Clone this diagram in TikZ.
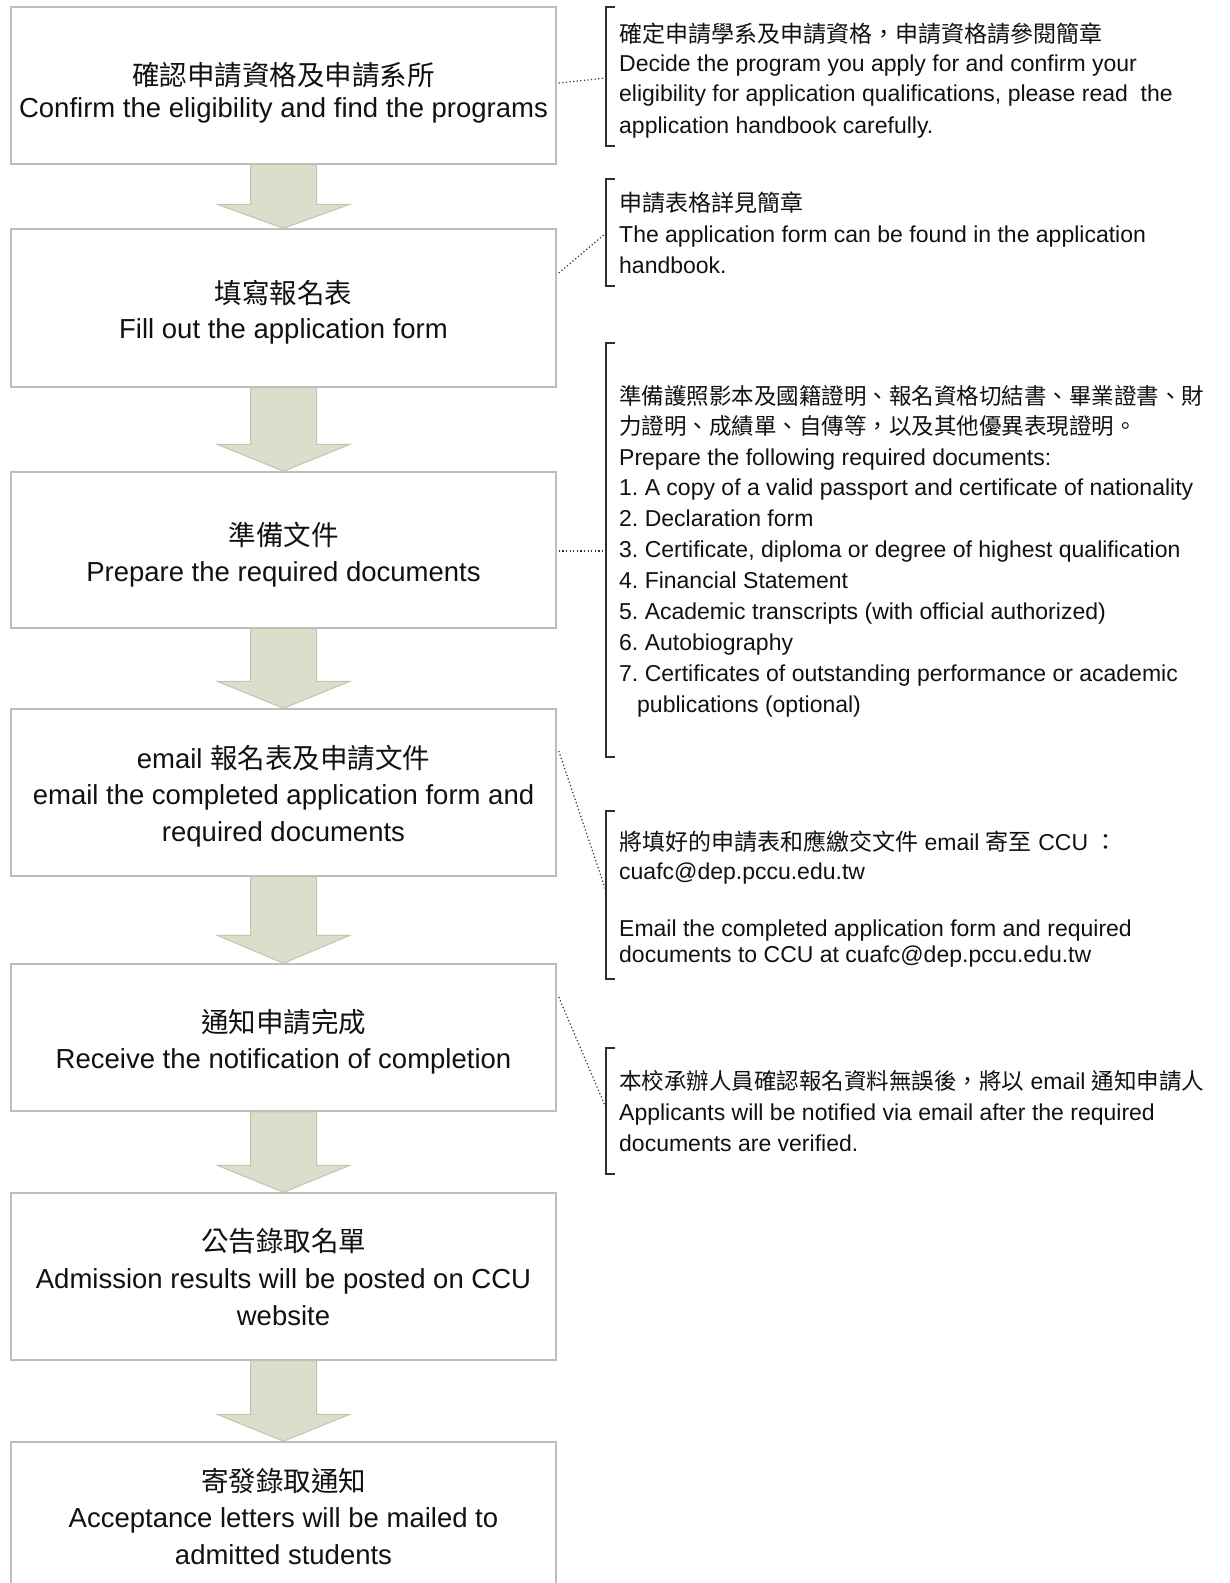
\documentclass[tikz,border=0pt]{standalone}
\usepackage{fontspec}
\setmainfont{Liberation Sans}
\newfontfamily\cjk{Noto Sans CJK TC}
\usetikzlibrary{calc}
\frenchspacing
\definecolor{boxgray}{HTML}{BDBDBD}
\definecolor{textc}{HTML}{111111}
\definecolor{brkc}{HTML}{2E2E2E}
\definecolor{linkc}{HTML}{333333}
\definecolor{arrowfill}{HTML}{DCDDCB}
\definecolor{arrowline}{HTML}{C3C5B0}
\tikzset{
  stepbox/.style={draw=boxgray, line width=1.5pt, fill=white, minimum width=545pt, inner sep=0pt},
  boxtext/.style={anchor=base, inner sep=0pt, font=\fontsize{27.5}{37}\selectfont, text=textc},
  annotext/.style={anchor=base west, inner sep=0pt, font=\fontsize{23}{31}\selectfont, text=textc},
  brk/.style={draw=brkc, line width=1.3pt},
  dotlink/.style={draw=linkc, line width=1.2pt, dash pattern=on 1.2pt off 2.4pt},
  flowarr/.style={draw=arrowline, fill=arrowfill, line width=1pt, line join=miter}
}
\newcommand\flowarrowdraw[3]{%
  \draw[flowarr] ($(#1.south)+(-33,0)$) -- ($(#2.north)+(-33,-#3)$) -- ($(#2.north)+(-66.5,-#3)$) -- (#2.north) -- ($(#2.north)+(66.5,-#3)$) -- ($(#2.north)+(33,-#3)$) -- ($(#1.south)+(33,0)$) -- cycle;}
\begin{document}
\begin{tikzpicture}[x=1pt,y=-1pt]
\fill[white] (0,0) rectangle (1230,1583);
\useasboundingbox (0,0) rectangle (1230,1583);

% boxes
\node[stepbox, minimum height=157pt] (b1) at (283.5,85.5) {};
\node[stepbox, minimum height=158pt] (b2) at (283.5,308) {};
\node[stepbox, minimum height=156pt] (b3) at (283.5,550) {};
\node[stepbox, minimum height=167pt] (b4) at (283.5,792.5) {};
\node[stepbox, minimum height=147pt] (b5) at (283.5,1037.5) {};
\node[stepbox, minimum height=167pt] (b6) at (283.5,1276.5) {};
\node[stepbox, minimum height=160pt] (b7) at (283.5,1522) {};

% box texts
\node[boxtext] (b1a) at (283.5,85.5) {\cjk 確認申請資格及申請系所};
\node[boxtext] (b1b) at (283.5,117) {Confirm the eligibility and find the programs};
\node[boxtext] (b2a) at (283.5,303) {\cjk 填寫報名表};
\node[boxtext] (b2b) at (283.5,338.5) {Fill out the application form};
\node[boxtext] (b3a) at (283.5,545) {\cjk 準備文件};
\node[boxtext] (b3b) at (283.5,581.5) {Prepare the required documents};
\node[boxtext] (b4a) at (283.5,768) {email {\cjk 報名表及申請文件}};
\node[boxtext] (b4b) at (283.5,804) {email the completed application form and};
\node[boxtext] (b4c) at (283.5,841.5) {required documents};
\node[boxtext] (b5a) at (283.5,1032) {\cjk 通知申請完成};
\node[boxtext] (b5b) at (283.5,1068) {Receive the notification of completion};
\node[boxtext] (b6a) at (283.5,1251.5) {\cjk 公告錄取名單};
\node[boxtext] (b6b) at (283.5,1288) {Admission results will be posted on CCU};
\node[boxtext] (b6c) at (283.5,1325.5) {website};
\node[boxtext] (b7a) at (283.5,1491.5) {\cjk 寄發錄取通知};
\node[boxtext] (b7b) at (283.5,1527) {Acceptance letters will be mailed to};
\node[boxtext] (b7c) at (283.5,1564.5) {admitted students};

% flow arrows
\flowarrowdraw{b1}{b2}{24}
\flowarrowdraw{b2}{b3}{27}
\flowarrowdraw{b3}{b4}{27}
\flowarrowdraw{b4}{b5}{28}
\flowarrowdraw{b5}{b6}{27}
\flowarrowdraw{b6}{b7}{27}

% brackets
\draw[brk] (615,7) -- (606,7) -- (606,146) -- (615,146);
\draw[brk] (615,179) -- (606,179) -- (606,286) -- (615,286);
\draw[brk] (615,343) -- (606,343) -- (606,757) -- (615,757);
\draw[brk] (615,811) -- (606,811) -- (606,979) -- (615,979);
\draw[brk] (615,1048) -- (606,1048) -- (606,1174) -- (615,1174);
\coordinate (k1) at (606,78);
\coordinate (k2) at (606,233);
\coordinate (k3) at (606,551);
\coordinate (k4) at (606,891);
\coordinate (k5) at (606,1108);

% dotted links
\draw[dotlink] ($(b1.east)+(2,-2.5)$) -- (k1);
\draw[dotlink] ($(b2.east)+(2,-35)$) -- (k2);
\draw[dotlink] ($(b3.east)+(2,1)$) -- (k3);
\draw[dotlink] ($(b4.east)+(2,-41.5)$) -- (k4);
\draw[dotlink] ($(b5.east)+(2,-40.5)$) -- (k5);

% annotation 1
\node[annotext] (a1a) at (619,42.5) {\cjk 確定申請學系及申請資格，申請資格請參閱簡章};
\node[annotext] (a1b) at (619,71.6) {Decide the program you apply for and confirm your};
\node[annotext] (a1c) at (619,101.6) {eligibility for application qualifications, please read\ \ the};
\node[annotext] (a1d) at (619,133.6) {application handbook carefully.};
% annotation 2
\node[annotext] (a2a) at (619,211.7) {\cjk 申請表格詳見簡章};
\node[annotext] (a2b) at (619,242.6) {The application form can be found in the application};
\node[annotext] (a2c) at (619,273.6) {handbook.};
% annotation 3
\node[annotext] (a3a) at (619,404.7) {\cjk\fontsize{22.5}{31}\selectfont 準備護照影本及國籍證明、報名資格切結書、畢業證書、財};
\node[annotext] (a3b) at (619,434.7) {\cjk\fontsize{22.5}{31}\selectfont 力證明、成績單、自傳等，以及其他優異表現證明。};
\node[annotext] (a3c) at (619,465) {Prepare the following required documents:};
\node[annotext] (a3d) at (619,495.9) {1. A copy of a valid passport and certificate of nationality};
\node[annotext] (a3e) at (619,526.8) {2. Declaration form};
\node[annotext] (a3f) at (619,557.7) {3. Certificate, diploma or degree of highest qualification};
\node[annotext] (a3g) at (619,588.6) {4. Financial Statement};
\node[annotext] (a3h) at (619,619.5) {5. Academic transcripts (with official authorized)};
\node[annotext] (a3i) at (619,650.4) {6. Autobiography};
\node[annotext] (a3j) at (619,681.3) {7. Certificates of outstanding performance or academic};
\node[annotext] (a3k) at (637,712.2) {publications (optional)};
% annotation 4
\node[annotext] (a4a) at (619,850.7) {{\cjk 將填好的申請表和應繳交文件} email {\cjk 寄至} CCU {\cjk ：}};
\node[annotext] (a4b) at (619,879.6) {cuafc@dep.pccu.edu.tw};
\node[annotext] (a4c) at (619,936.6) {Email the completed application form and required};
\node[annotext] (a4d) at (619,962.6) {documents to CCU at cuafc@dep.pccu.edu.tw};
% annotation 5
\node[annotext] (a5a) at (619,1089) {{\cjk\fontsize{22.5}{31}\selectfont 本校承辦人員確認報名資料無誤後，將以} email {\cjk\fontsize{22.5}{31}\selectfont 通知申請人}};
\node[annotext] (a5b) at (619,1120.6) {Applicants will be notified via email after the required};
\node[annotext] (a5c) at (619,1151.6) {documents are verified.};
\end{tikzpicture}
\end{document}
